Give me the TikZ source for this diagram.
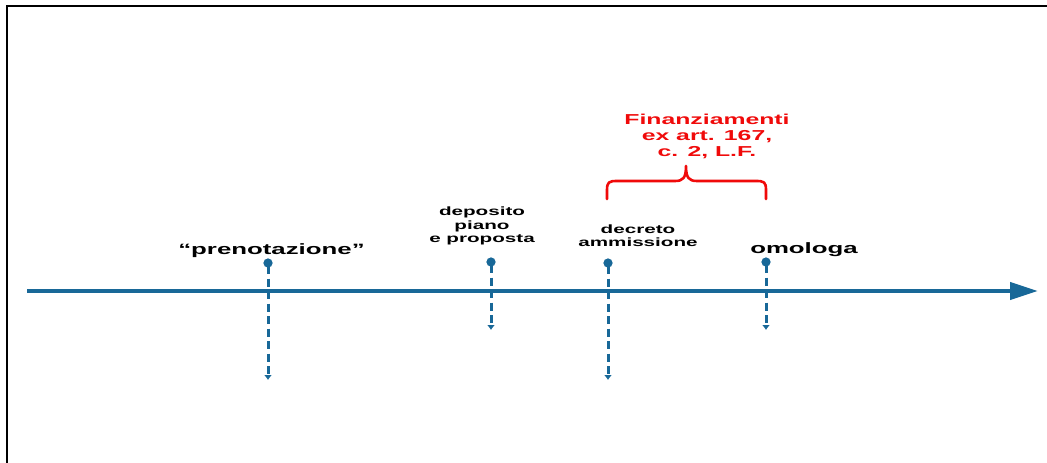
\documentclass[tikz,border=0pt]{standalone}
\usepackage{fontspec}
\usetikzlibrary{arrows.meta}
\newfontfamily\widesans{Liberation Sans}[FakeStretch=1.72]
\definecolor{axisblue}{RGB}{24,104,152}
\definecolor{bracered}{RGB}{240,10,10}
\begin{document}
\begin{tikzpicture}[x=1pt,y=-1pt,
  lbl/.style={inner sep=0pt, align=center, font=\widesans\bfseries},
  big/.style={lbl, font=\widesans\bfseries\fontsize{15}{18}\selectfont},
  small/.style={lbl, font=\widesans\bfseries\fontsize{12}{13.3}\selectfont},
  redlbl/.style={lbl, text=bracered, font=\widesans\bfseries\fontsize{14.4}{16}\selectfont},
  axisline/.style={draw=axisblue, line width=4pt, -{Triangle[length=28pt,width=17pt]}},
  marker/.style={draw=axisblue, line width=3pt, dash pattern=on 8pt off 4.5pt,
     {Circle[length=9pt,width=9pt]}-{Latex[length=5pt,width=8pt]}}
]
\useasboundingbox[fill=white] (0,0) rectangle (1047,463);
% frame
\draw[line width=2pt] (7,463) -- (7,6) -- (1047,6);

% axis
\coordinate (axs) at (27,291);
\coordinate (axe) at (1038,291);
\draw[axisline] (axs) -- (axe);

% markers
\coordinate (m1t) at (268,258.5); \coordinate (m1b) at (268,380);
\coordinate (m2t) at (491,257.5); \coordinate (m2b) at (491,330);
\coordinate (m3t) at (608,258.5); \coordinate (m3b) at (608,380);
\coordinate (m4t) at (766,257.5); \coordinate (m4b) at (766,330);
\draw[marker] (m1t) -- (m1b);
\draw[marker] (m2t) -- (m2b);
\draw[marker] (m3t) -- (m3b);
\draw[marker] (m4t) -- (m4b);

% labels
\node[big, anchor=base] (pren) at (271.5,254) {“prenotazione”};
\node[small] (dep) at (482,226) {deposito\\piano\\e proposta};
\node[small] (dec) at (638,235.5) {decreto\\ammissione};
\node[big, anchor=base] (omo) at (804,253) {omologa};
\node[redlbl] (fin) at (707,136.5) {Finanziamenti\\ex art. 167,\\c. 2, L.F.};

% brace
\draw[bracered, line width=2.6pt, line cap=round, line join=round]
  (607,199) -- (607,190) .. controls (607,182) and (609,181) .. (617,181)
  -- (675,181) .. controls (683,181) and (686,178) .. (686,166)
  .. controls (686,178) and (689,181) .. (697,181)
  -- (756,181) .. controls (764,181) and (766,182) .. (766,190) -- (766,199);
\end{tikzpicture}
\end{document}
